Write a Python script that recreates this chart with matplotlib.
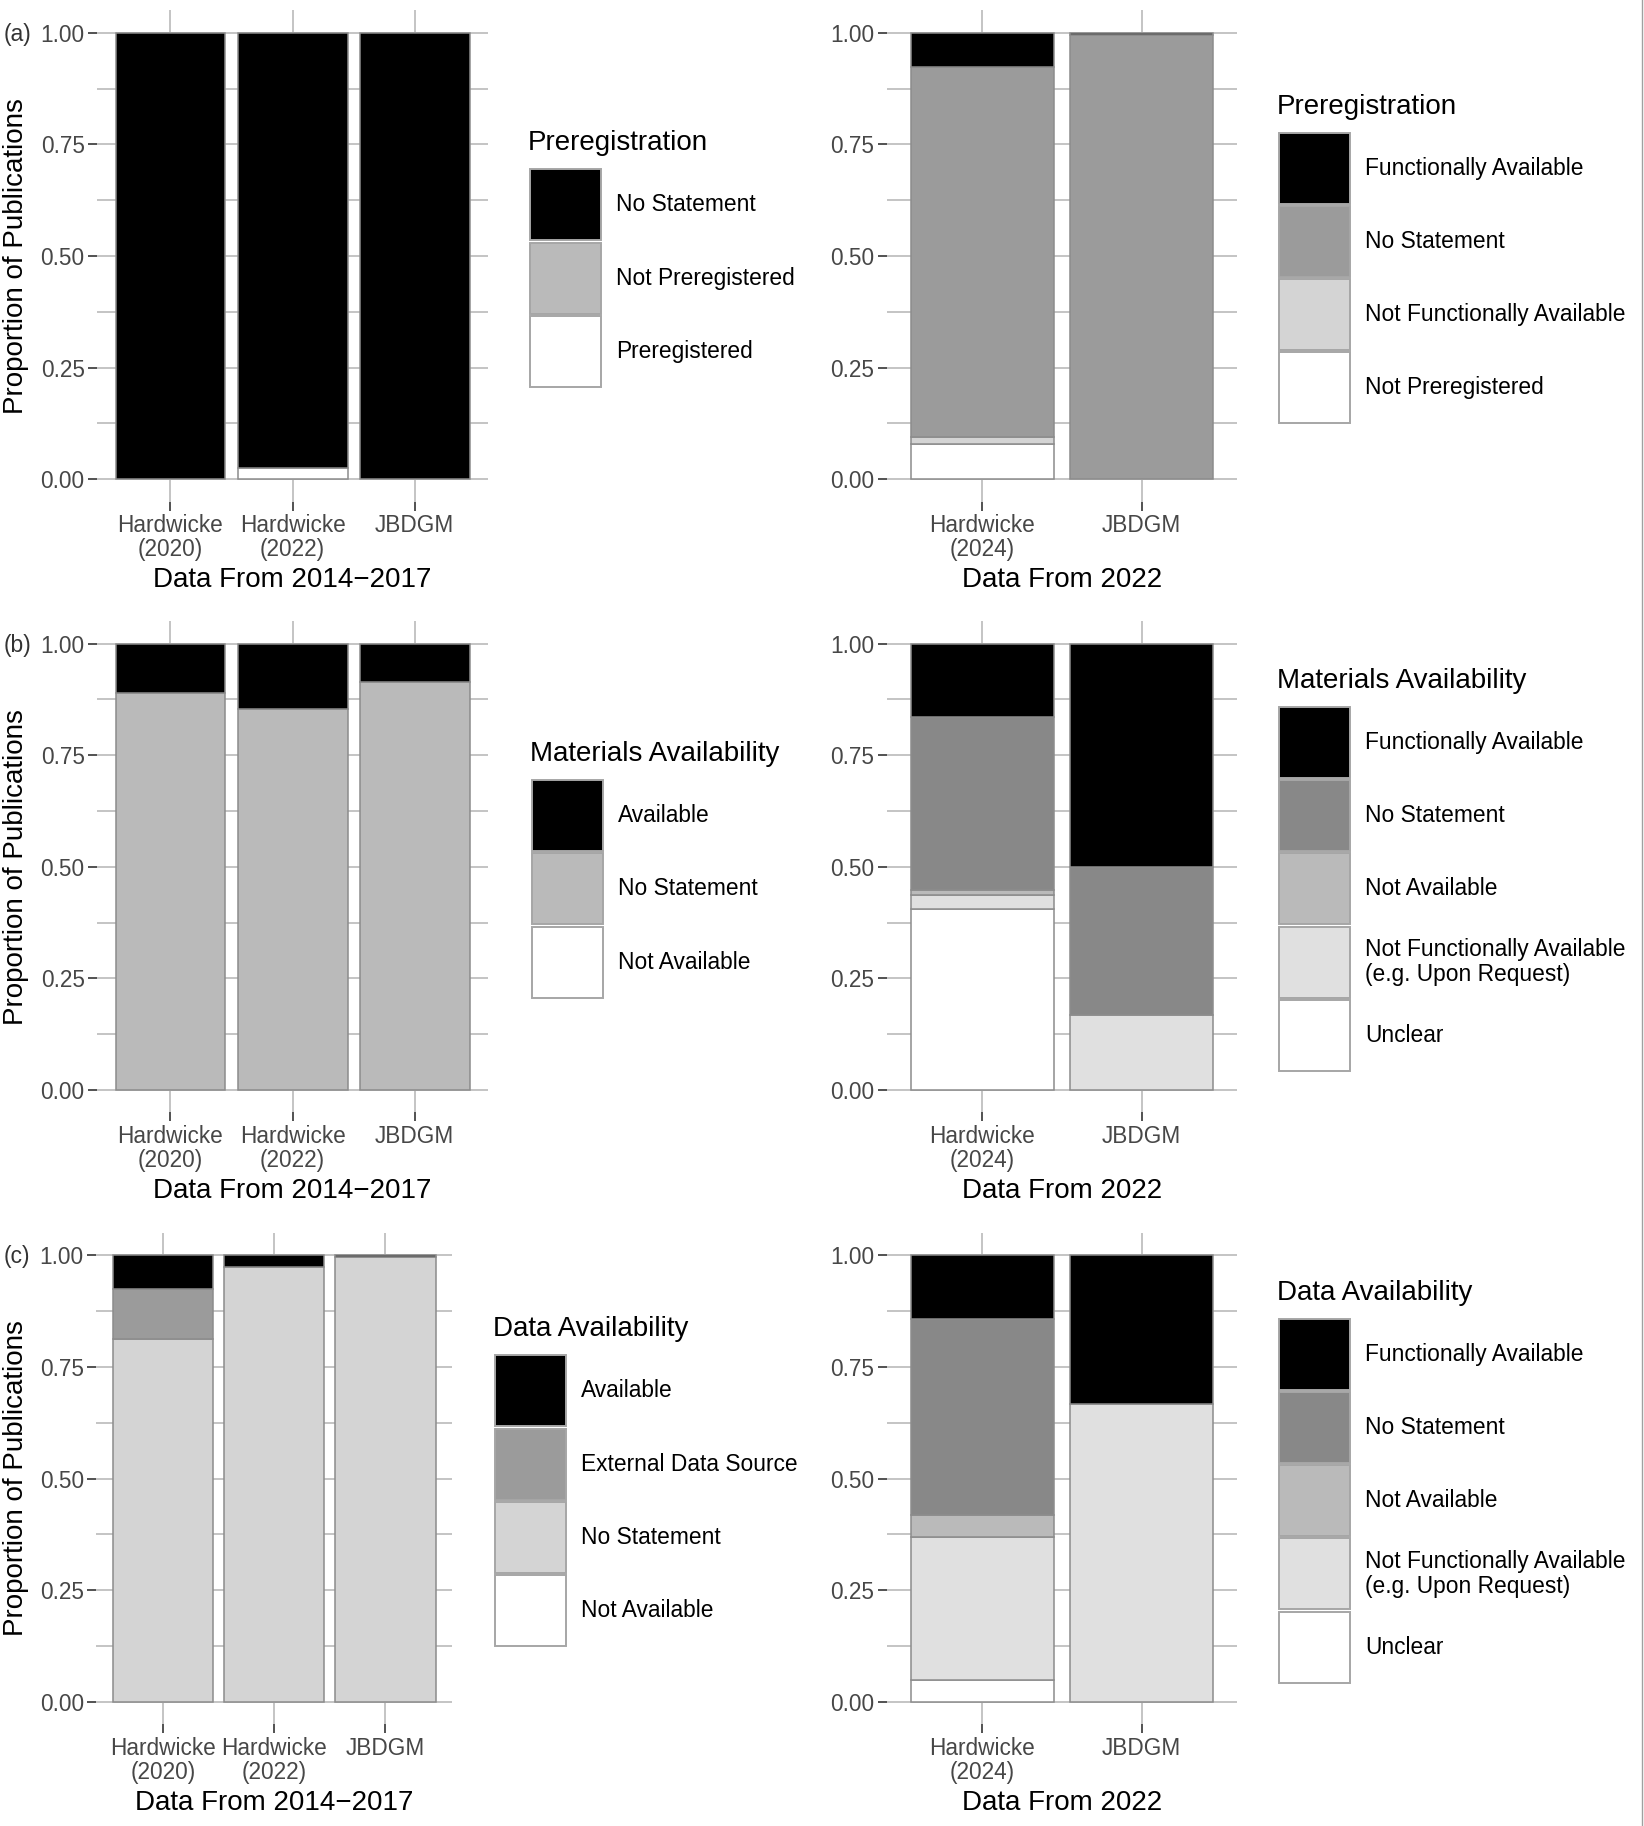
#Barras apiladas de preregistro, disponibilidad de materiales y de datos
import numpy as np
import matplotlib
matplotlib.use("Agg")
import matplotlib.pyplot as plt
from matplotlib.patches import Rectangle
from matplotlib.lines import Line2D

plt.rcParams['font.family'] = ['Liberation Sans', 'DejaVu Sans']

#Datos (proporciones). Cada fila es un nivel, el primero queda arriba.
cats_old = ["Hardwicke\n(2020)", "Hardwicke\n(2022)", "JBDGM"]
cats_new = ["Hardwicke\n(2024)", "JBDGM"]

prereg_old_levels = ["No Statement", "Not Preregistered", "Preregistered"]
prereg_old = [[1.000, 0.975, 1.000],
              [0.000, 0.000, 0.000],
              [0.000, 0.025, 0.000]]

prereg_new_levels = ["Functionally Available", "No Statement",
                     "Not Functionally Available", "Not Preregistered"]
prereg_new = [[0.077, 0.004],
              [0.829, 0.996],
              [0.015, 0.000],
              [0.079, 0.000]]

mat_old_levels = ["Available", "No Statement", "Not Available"]
mat_old = [[0.110, 0.146, 0.086],
           [0.890, 0.854, 0.914],
           [0.000, 0.000, 0.000]]

new_levels = ["Functionally Available", "No Statement", "Not Available",
              "Not Functionally Available\n(e.g. Upon Request)", "Unclear"]
mat_new = [[0.165, 0.500],
           [0.387, 0.333],
           [0.011, 0.000],
           [0.032, 0.167],
           [0.405, 0.000]]

data_old_levels = ["Available", "External Data Source", "No Statement", "Not Available"]
data_old = [[0.076, 0.026, 0.004],
            [0.112, 0.000, 0.000],
            [0.812, 0.974, 0.996],
            [0.000, 0.000, 0.000]]

data_new = [[0.143, 0.333],
            [0.439, 0.000],
            [0.048, 0.000],
            [0.321, 0.667],
            [0.049, 0.000]]

W, H = 1644, 1826
TICK_COL = '#474747'


def grises(n):
    #Escala de grises tipo scale_fill_grey(start=0, end=1)
    return [str(round(v, 3)) for v in np.linspace(0, 1, n) ** (1 / 2.2)]


def px_axes(fig, x0, x1, y_top, y_bot):
    return fig.add_axes([x0 / W, 1 - y_bot / H, (x1 - x0) / W, (y_bot - y_top) / H])


def barras(ax, cats, valores, xlabel):
    """Dibuja barras apiladas, el primer nivel arriba."""
    valores = np.array(valores, dtype=float)
    colores = grises(len(valores))
    x = np.arange(1, len(cats) + 1)
    base = np.zeros(len(cats))
    for i in range(len(valores) - 1, -1, -1):
        h = valores[i]
        m = h > 0
        if m.any():
            ax.bar(x[m], h[m], bottom=base[m], width=0.9, color=colores[i],
                   edgecolor='#8c8c8c', linewidth=1.1, zorder=3)
        base = base + h

    ax.set_xlim(0.4, len(cats) + 0.6)
    ax.set_ylim(-0.05, 1.05)
    ax.set_xticks(x)
    ax.set_xticklabels(cats, linespacing=1.05)
    ax.set_yticks([0, 0.25, 0.5, 0.75, 1.0])
    ax.set_yticklabels(["0.00", "0.25", "0.50", "0.75", "1.00"])
    ax.set_yticks([0.125, 0.375, 0.625, 0.875], minor=True)
    ax.grid(True, which='both', color='#c4c4c4', linewidth=1.4, zorder=0)
    ax.set_axisbelow(True)
    for s in ax.spines.values():
        s.set_visible(False)
    ax.tick_params(which='major', length=6.5, width=1.2, color='#333333',
                   labelsize=16.3, labelcolor=TICK_COL, pad=2.5)
    ax.tick_params(which='minor', length=0)
    ax.set_xlabel(xlabel, fontsize=20, labelpad=4.5)


def leyenda(fig, x, cy, titulo, niveles):
    """Leyenda a mano en pixeles de la figura, centrada en cy."""
    colores = grises(len(niveles))
    paso, lado = 73.2, 71
    top = cy - (39.5 + len(niveles) * paso) / 2 + 39.5 + 3.5
    fig.text((x - 2) / W, 1 - (top - 26) / H, titulo, fontsize=20,
             ha='left', va='center')
    for i, (nv, c) in enumerate(zip(niveles, colores)):
        t = top + i * paso
        fig.add_artist(Rectangle((x / W, 1 - (t + lado) / H), lado / W, lado / H,
                                 transform=fig.transFigure, facecolor=c,
                                 edgecolor='#a6a6a6', linewidth=1.4))
        fig.text((x + 86) / W, 1 - (t + lado / 2) / H, nv, fontsize=16.4,
                 ha='left', va='center', linespacing=1.15)


fig = plt.figure(figsize=(W / 100, H / 100), dpi=100)

filas = [(10.4, 501.6), (621.2, 1112.3), (1232.6, 1724.4)]
izq_x = [(97.2, 488.0), (97.2, 488.0), (96.3, 452.2)]
der_x = (887.0, 1237.0)

paneles = [
    (prereg_old, prereg_old_levels, "Preregistration", prereg_new, prereg_new_levels, 530),
    (mat_old, mat_old_levels, "Materials Availability", mat_new, new_levels, 532),
    (data_old, data_old_levels, "Data Availability", data_new, new_levels, 495),
]
etiquetas = ["(a)", "(b)", "(c)"]

for k, (vo, lo, titulo, vn, ln, leg_x) in enumerate(paneles):
    yt, yb = filas[k]
    cy = (yt + yb) / 2
    y_uno = yt + 0.05 / 1.1 * (yb - yt)

    ax1 = px_axes(fig, izq_x[k][0], izq_x[k][1], yt, yb)
    barras(ax1, cats_old, vo, "Data From 2014\u22122017")
    leyenda(fig, leg_x, cy, titulo, lo)

    ax2 = px_axes(fig, der_x[0], der_x[1], yt, yb)
    barras(ax2, cats_new, vn, "Data From 2022")
    leyenda(fig, 1279, cy, titulo, ln)

    fig.text(16.3 / W, 1 - cy / H, "Proportion of Publications", rotation=90,
             fontsize=20, ha='center', va='center')
    fig.text(3.5 / W, 1 - (y_uno + 2) / H, etiquetas[k], fontsize=16.5,
             color='#333333', ha='left', va='center')

#Linea del borde derecho
fig.add_artist(Line2D([1642 / W, 1642 / W], [0, 1], transform=fig.transFigure,
                      color='#a0a0a0', linewidth=1))

fig.savefig("out.png", dpi=100, facecolor='white')
